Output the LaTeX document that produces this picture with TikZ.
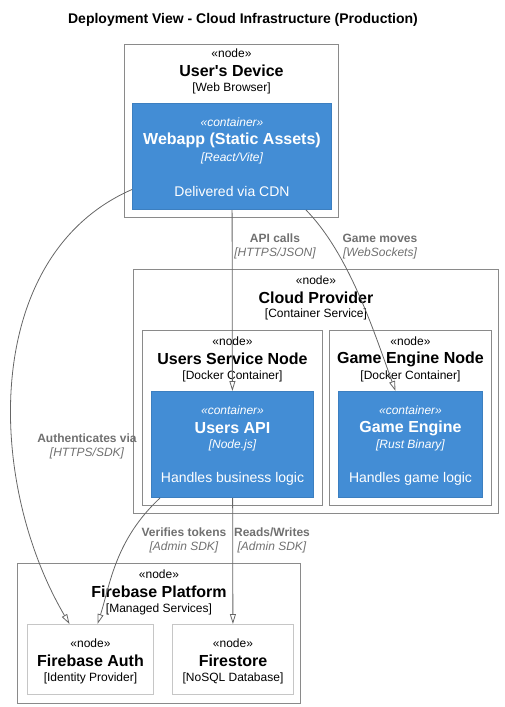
\documentclass[tikz,border=0pt]{standalone}
\usepackage{fontspec}
\setmainfont{Liberation Sans}
\usepackage{xcolor}
\usetikzlibrary{arrows.meta}

\definecolor{c4blue}{HTML}{438DD5}
\definecolor{c4edge}{HTML}{3C7FC0}
\definecolor{nodeline}{HTML}{8A8A8A}
\definecolor{leafline}{HTML}{C6C6C6}
\definecolor{relline}{HTML}{666666}
\definecolor{reltext}{HTML}{707070}

\tikzset{
    box/.style={anchor=north west, inner sep=0pt, line width=1pt},
    nodebox/.style={box, draw=nodeline},
    leafbox/.style={box, draw=leafline},
    contbox/.style={box, draw=c4edge, fill=c4blue},
    stereo/.style={inner sep=1pt, font=\fontsize{12}{14}\selectfont},
    bigname/.style={inner sep=1pt, font=\fontsize{16}{19}\selectfont\bfseries},
    techtxt/.style={inner sep=1pt, font=\fontsize{12}{14}\selectfont},
    cstereo/.style={stereo, text=white, font=\fontsize{12}{14}\selectfont\itshape},
    cname/.style={bigname, text=white},
    ctech/.style={techtxt, text=white, font=\fontsize{12}{14}\selectfont\itshape},
    cdesc/.style={inner sep=1pt, text=white, font=\fontsize{14}{17}\selectfont},
    rel/.style={draw=relline, line width=.8pt, -{Triangle[open, length=10pt, width=6pt]}},
    relname/.style={inner sep=1pt, text=reltext, font=\fontsize{12}{14}\selectfont\bfseries},
    reltech/.style={inner sep=1pt, text=reltext, font=\fontsize{12}{14}\selectfont\itshape},
}

\begin{document}
\begin{tikzpicture}[x=1pt, y=-1pt]
    \useasboundingbox (0,0) rectangle (504,707);
    \node[inner sep=1pt, font=\fontsize{14}{17}\selectfont\bfseries] (title) at (243,20)
        {Deployment View - Cloud Infrastructure (Production)};

    % user's device
    \node[nodebox, minimum width=214pt, minimum height=173pt] (device) at (124,44) {};
    \node[stereo] (deviceS) at ([yshift=-9pt]device.north) {«node»};
    \node[bigname] (deviceN) at ([yshift=-27pt]device.north) {User\textquotesingle s Device};
    \node[techtxt] (deviceT) at ([yshift=-44pt]device.north) {[Web Browser]};
    \node[contbox, minimum width=199pt, minimum height=106pt] (webapp) at (132,103) {};
    \node[cstereo] (webappS) at ([yshift=-19pt]webapp.north) {«container»};
    \node[cname] (webappN) at ([yshift=-37pt]webapp.north) {Webapp (Static Assets)};
    \node[ctech] (webappT) at ([yshift=-55pt]webapp.north) {[React/Vite]};
    \node[cdesc] (webappD) at ([yshift=-88pt]webapp.north) {Delivered via CDN};

    % cloud provider
    \node[nodebox, minimum width=365pt, minimum height=244pt] (cloud) at (133,269) {};
    \node[stereo] (cloudS) at ([yshift=-11pt]cloud.north) {«node»};
    \node[bigname] (cloudN) at ([yshift=-29pt]cloud.north) {Cloud Provider};
    \node[techtxt] (cloudT) at ([yshift=-45pt]cloud.north) {[Container Service]};

    \node[nodebox, minimum width=180pt, minimum height=175pt] (usnode) at (142,330) {};
    \node[stereo] (usnodeS) at ([yshift=-11pt]usnode.north) {«node»};
    \node[bigname] (usnodeN) at ([yshift=-29pt]usnode.north) {Users Service Node};
    \node[techtxt] (usnodeT) at ([yshift=-46pt]usnode.north) {[Docker Container]};
    \node[contbox, minimum width=162pt, minimum height=106pt] (usersapi) at (151,391) {};
    \node[cstereo] (usersapiS) at ([yshift=-19pt]usersapi.north) {«container»};
    \node[cname] (usersapiN) at ([yshift=-37pt]usersapi.north) {Users API};
    \node[ctech] (usersapiT) at ([yshift=-54pt]usersapi.north) {[Node.js]};
    \node[cdesc] (usersapiD) at ([yshift=-88pt]usersapi.north) {Handles business logic};

    \node[nodebox, minimum width=162pt, minimum height=175pt] (genode) at (329,330) {};
    \node[stereo] (genodeS) at ([yshift=-11pt]genode.north) {«node»};
    \node[bigname] (genodeN) at ([yshift=-29pt]genode.north) {Game Engine Node};
    \node[techtxt] (genodeT) at ([yshift=-46pt]genode.north) {[Docker Container]};
    \node[contbox, minimum width=144pt, minimum height=106pt] (engine) at (338,391) {};
    \node[cstereo] (engineS) at ([yshift=-19pt]engine.north) {«container»};
    \node[cname] (engineN) at ([yshift=-37pt]engine.north) {Game Engine};
    \node[ctech] (engineT) at ([yshift=-54pt]engine.north) {[Rust Binary]};
    \node[cdesc] (engineD) at ([yshift=-88pt]engine.north) {Handles game logic};

    % firebase
    \node[nodebox, minimum width=283pt, minimum height=140pt] (firebase) at (17,563) {};
    \node[stereo] (firebaseS) at ([yshift=-11pt]firebase.north) {«node»};
    \node[bigname] (firebaseN) at ([yshift=-29pt]firebase.north) {Firebase Platform};
    \node[techtxt] (firebaseT) at ([yshift=-46pt]firebase.north) {[Managed Services]};

    \node[leafbox, minimum width=126pt, minimum height=70pt] (fbauth) at (27,624) {};
    \node[stereo] (fbauthS) at ([yshift=-19pt]fbauth.north) {«node»};
    \node[bigname] (fbauthN) at ([yshift=-37pt]fbauth.north) {Firebase Auth};
    \node[techtxt] (fbauthT) at ([yshift=-54pt]fbauth.north) {[Identity Provider]};

    \node[leafbox, minimum width=121pt, minimum height=70pt] (store) at (172,624) {};
    \node[stereo] (storeS) at ([yshift=-19pt]store.north) {«node»};
    \node[bigname] (storeN) at ([yshift=-37pt]store.north) {Firestore};
    \node[techtxt] (storeT) at ([yshift=-54pt]store.north) {[NoSQL Database]};

    % relations
    \draw[rel] (webapp) -- (usersapi);
    \draw[rel] ([xshift=-26pt]webapp.south east) .. controls (350,255) and (375,335) .. ([xshift=-15pt]engine.north);
    \draw[rel] ([yshift=-33pt]webapp.west) .. controls (-18,255) and (-15,480) .. ([xshift=-21pt]fbauth.north);
    \draw[rel] ([xshift=9pt]usersapi.south west) .. controls (115,540) and (110,585) .. ([xshift=7pt]fbauth.north);
    \draw[rel] (usersapi) -- (store);

    \node[relname] (apiL) at (275,238) {API calls};
    \node[reltech] (apiT) at (275,253) {[HTTPS/JSON]};
    \node[relname] (movesL) at (380,238) {Game moves};
    \node[reltech] (movesT) at (380,253) {[WebSockets]};
    \node[relname] (authL) at (87,438) {Authenticates via};
    \node[reltech] (authT) at (87,453) {[HTTPS/SDK]};
    \node[relname] (verifyL) at (184,532) {Verifies tokens};
    \node[reltech] (verifyT) at (184,547) {[Admin SDK]};
    \node[relname] (rwL) at (272,532) {Reads/Writes};
    \node[reltech] (rwT) at (272,547) {[Admin SDK]};
\end{tikzpicture}
\end{document}
